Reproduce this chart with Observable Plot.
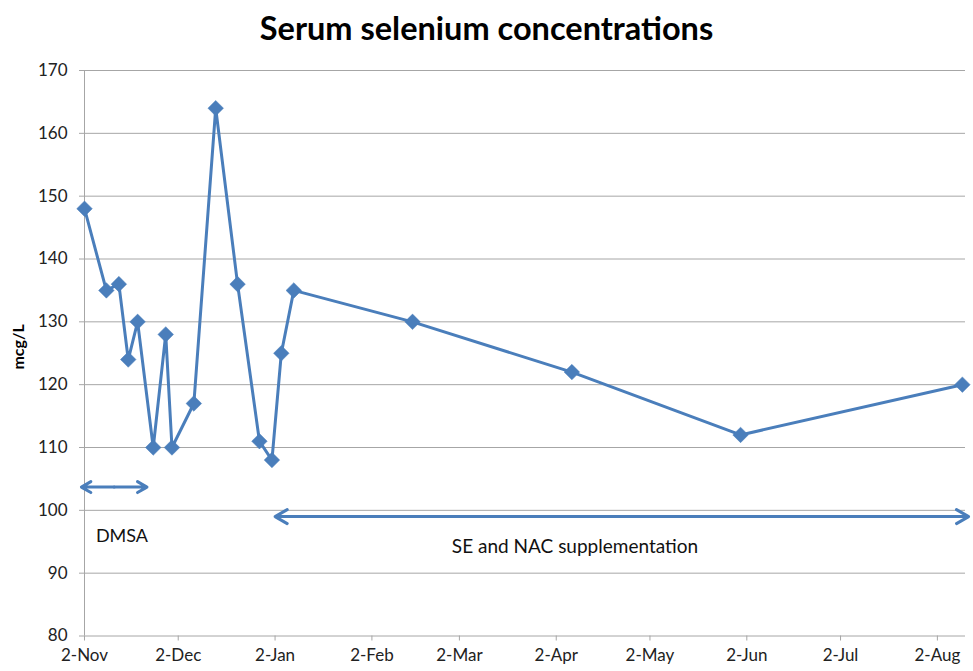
<!DOCTYPE html>
<html>
<head>
<meta charset="utf-8">
<script src="https://cdn.jsdelivr.net/npm/d3@7"></script>
<script src="https://cdn.jsdelivr.net/npm/@observablehq/plot@0.6"></script>
<style>
  html, body { margin: 0; padding: 0; background: #fff; }
  #title { height: 60px; width: 973px; text-align: center; font-family: Lato, "Open Sans", sans-serif; font-weight: bold; font-size: 32.5px; line-height: 56px; color: #000; }
</style>
</head>
<body>
<div id="title">Serum selenium concentrations</div>
<div id="chart"></div>
<script>
// Data
const dates = ["2012-11-02","2012-11-09","2012-11-13","2012-11-16","2012-11-19","2012-11-24","2012-11-28","2012-11-30","2012-12-07","2012-12-14","2012-12-21","2012-12-28","2013-01-01","2013-01-04","2013-01-08","2013-02-15","2013-04-07","2013-05-31","2013-08-10"];
const selenium = [148,135,136,124,130,110,128,110,117,164,136,111,108,125,135,130,122,112,120];
const xTickDates = ["2012-11-02","2012-12-02","2013-01-02","2013-02-02","2013-03-02","2013-04-02","2013-05-02","2013-06-02","2013-07-02","2013-08-02"];
const yTicks = [80,90,100,110,120,130,140,150,160,170];
const xDomain = ["2012-11-02","2013-08-11"];
const yDomain = [80, 170];
// Annotations
const spanLabels = ["DMSA", "SE and NAC supplementation"];
const spanStarts = ["2012-11-01", "2013-01-02"];
const spanEnds = ["2012-11-22", "2013-08-12"];
const spanY = [103.7, 99.0];
const labelDates = ["2012-11-14", "2013-04-08"];
const labelY = [95.8, 94.2];
const labelSizes = [18, 19];
const yLabel = "mcg/L";
const yLabelAt = [126];

const parse = (s) => new Date(s + "T00:00:00Z");
const data = dates.map((d, i) => ({date: parse(d), value: selenium[i]}));
const halves = [];
spanStarts.forEach((s, i) => {
  const a = parse(s), b = parse(spanEnds[i]);
  const m = new Date((+a + +b) / 2);
  halves.push({x1: m, x2: a, y: spanY[i]});
  halves.push({x1: m, x2: b, y: spanY[i]});
});
const labels = spanLabels.map((t, i) => ({text: t, date: parse(labelDates[i]), y: labelY[i]}));

const blue = "#4A7EBB";
const grid = "#A6A6A6";
const fmt = d3.utcFormat("%-d-%b");

const chart = Plot.plot({
  width: 973,
  height: 611,
  marginTop: 10,
  marginBottom: 35.5,
  marginLeft: 84,
  marginRight: 8,
  style: {fontFamily: "Lato, 'Open Sans', sans-serif", fontSize: "17px", color: "#222", background: "#fff"},
  x: {type: "utc", domain: xDomain.map(parse)},
  y: {domain: yDomain},
  marks: [
    Plot.ruleY(yTicks, {stroke: grid, strokeWidth: 1}),
    Plot.ruleX([parse(xDomain[0])], {y1: yDomain[0], y2: yDomain[1], stroke: grid, strokeWidth: 1}),
    Plot.axisY({ticks: yTicks, tickSize: 5, tickPadding: 12, stroke: grid, label: null, fontSize: 17}),
    Plot.axisX({ticks: xTickDates.map(parse), tickFormat: fmt, tickSize: 5, tickPadding: 8, stroke: grid, label: null, fontSize: 17}),
    Plot.text(yLabelAt, {y: (d) => d, frameAnchor: "left", textAnchor: "middle", text: () => yLabel, rotate: -90, dx: -66, fontWeight: "bold", fontSize: 16, fill: "#000"}),
    Plot.line(data, {x: "date", y: "value", stroke: blue, strokeWidth: 3}),
    Plot.dot(data, {x: "date", y: "value", symbol: "diamond2", r: 7, fill: blue, stroke: blue, strokeWidth: 0.5}),
    Plot.arrow(halves, {x1: "x1", x2: "x2", y1: "y", y2: "y", stroke: blue, strokeWidth: 3, headLength: 7, headAngle: 60}),
    Plot.text([labels[0]], {x: "date", y: "y", text: "text", fontSize: labelSizes[0], fill: "#111"}),
    Plot.text([labels[1]], {x: "date", y: "y", text: "text", fontSize: labelSizes[1], fill: "#111"})
  ]
});
document.getElementById("chart").appendChild(chart);
</script>
</body>
</html>
